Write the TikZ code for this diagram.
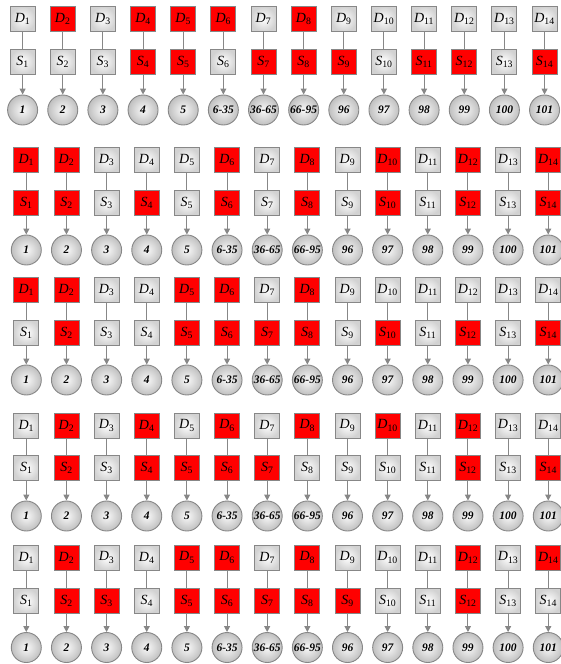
\documentclass[tikz,border=0pt]{standalone}
\usepackage{fontspec}
\setmainfont{Liberation Serif}
\usetikzlibrary{arrows.meta}
\definecolor{edgegray}{RGB}{135,135,135}
\definecolor{redfill}{RGB}{255,0,0}
\tikzset{
  boxbase/.style={rectangle, draw=edgegray, line width=0.9pt, minimum width=25pt, minimum height=25pt, inner sep=0pt, font=\fontsize{14}{14}\selectfont},
  graybox/.style={boxbase, inner color=white, outer color=gray!35},
  redbox/.style={boxbase, fill=redfill},
  ball/.style={circle, draw=edgegray, line width=0.9pt, minimum size=30pt, inner sep=0pt, inner color=gray!5, outer color=gray!50, font=\bfseries\itshape\fontsize{11.5}{11.5}\selectfont},
  link/.style={draw=edgegray, line width=1pt},
  feed/.style={link, -{Triangle[width=6pt,length=6pt]}}
}
\newcommand\mkbox[4]{\ifnum#1=1 \node[redbox] (#2) at (#3) {#4};\else\node[graybox] (#2) at (#3) {#4};\fi}
\newcommand\colname[1]{\ifcase#1\or 1\or 2\or 3\or 4\or 5\or 6-35\or 36-65\or 66-95\or 96\or 97\or 98\or 99\or 100\or 101\fi}
\newcommand\drawblock[6]{%
  \foreach \i/\d/\s in {#6} {
    \pgfmathsetmacro\xx{#2+(\i-1)*40.15}
    \mkbox{\d}{D#1-\i}{\xx,#3}{\textit{D}\textsubscript{\i}}
    \mkbox{\s}{S#1-\i}{\xx,#4}{\textit{S}\textsubscript{\i}}
    \node[ball] (C#1-\i) at (\xx,#5) {\colname{\i}};
    \draw[link] (D#1-\i) -- (S#1-\i);
    \draw[feed] (S#1-\i) -- (C#1-\i);
  }}
\begin{document}
\begin{tikzpicture}[x=1pt,y=-1pt]
\useasboundingbox (0,0) rectangle (561,664);
\drawblock{a}{22.6}{19}{61.5}{110}{1/0/0,2/1/0,3/0/0,4/1/1,5/1/1,6/1/0,7/0/1,8/1/1,9/0/1,10/0/0,11/0/1,12/0/1,13/0/0,14/0/1}
\drawblock{b}{26.3}{160}{202.5}{250}{1/1/1,2/1/1,3/0/0,4/0/1,5/0/0,6/1/1,7/0/0,8/1/1,9/0/0,10/1/1,11/0/0,12/1/1,13/0/0,14/1/1}
\drawblock{c}{26.3}{290}{332.5}{380}{1/1/0,2/1/1,3/0/0,4/0/0,5/1/1,6/1/1,7/0/1,8/1/1,9/0/0,10/0/1,11/0/0,12/0/1,13/0/0,14/0/1}
\drawblock{d}{26.3}{425.5}{468}{516}{1/0/0,2/1/1,3/0/0,4/1/1,5/0/1,6/1/1,7/0/1,8/1/0,9/0/0,10/1/0,11/0/0,12/1/1,13/0/0,14/0/1}
\drawblock{e}{26.3}{557.5}{601}{647.5}{1/0/0,2/1/1,3/0/1,4/0/0,5/1/1,6/1/1,7/0/1,8/1/1,9/0/1,10/0/0,11/0/0,12/1/1,13/0/0,14/1/0}
\end{tikzpicture}
\end{document}
